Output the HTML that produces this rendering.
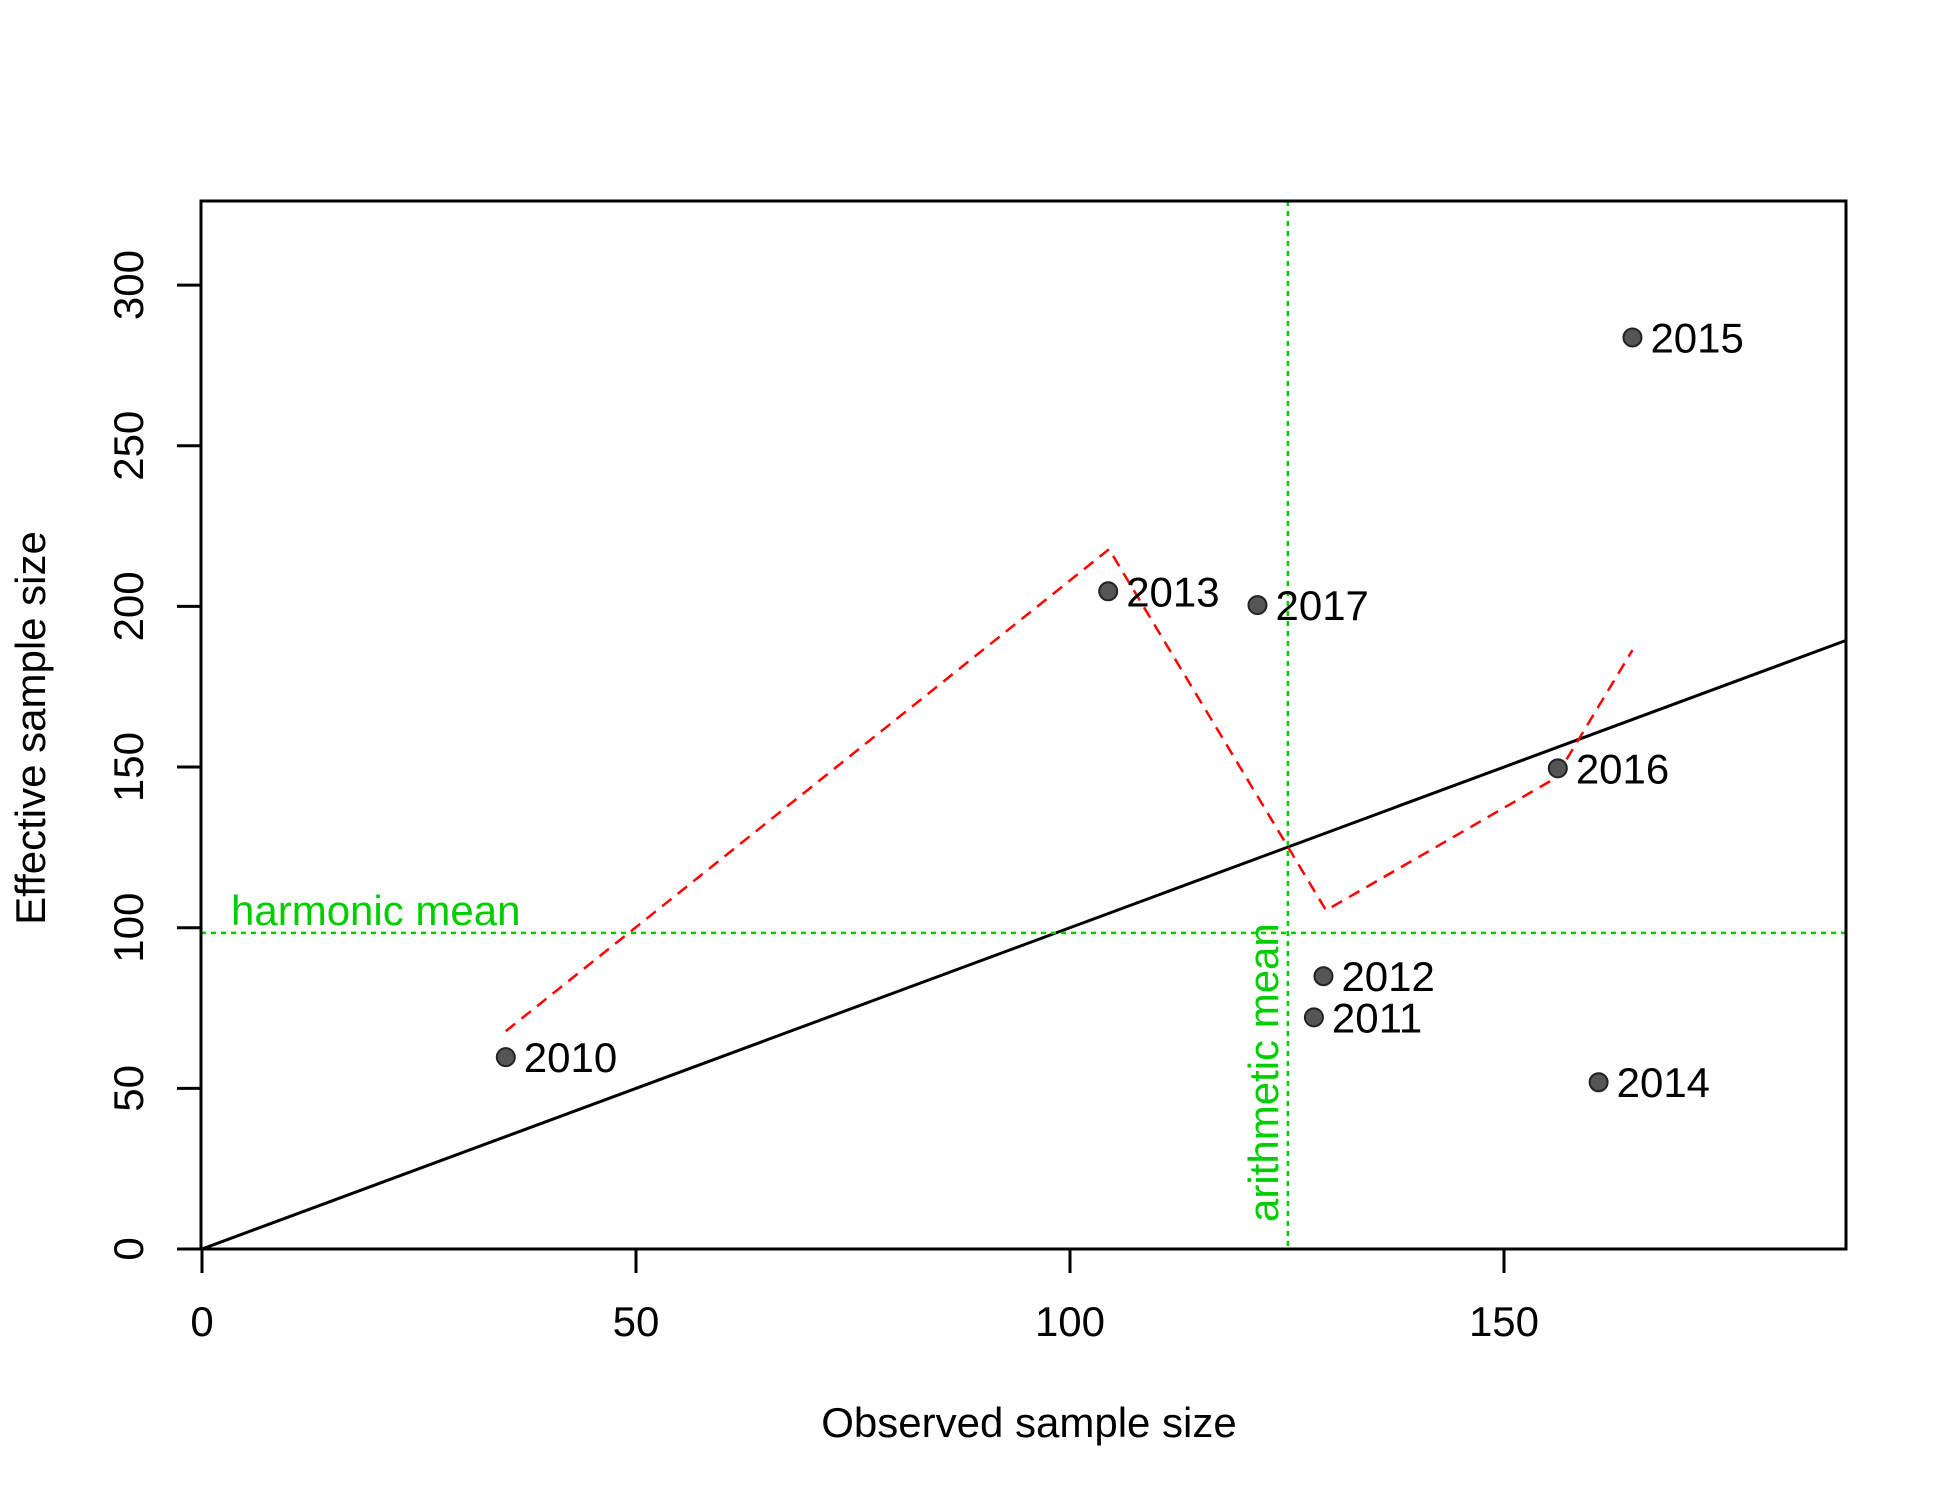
<!DOCTYPE html>
<html><head><meta charset="utf-8"><style>html,body{margin:0;padding:0;background:#fff}svg{display:block}text{font-family:"Liberation Sans",Arial,sans-serif}</style></head>
<body>
<svg id="chart" width="1950" height="1500" xmlns="http://www.w3.org/2000/svg"></svg>
<script>
const years = ["2010","2011","2012","2013","2014","2015","2016","2017"];
const observed = [35, 128.1, 129.2, 104.4, 160.9, 164.8, 156.2, 121.6];
const effective = [59.7, 72.1, 84.9, 204.7, 51.9, 283.7, 149.6, 200.4];
const trendX = [35, 104.5, 129.5, 155.9, 164.8];
const trendY = [67.8, 217.8, 105.4, 146.5, 186.4];
const xTicks = [0, 50, 100, 150];
const yTicks = [0, 50, 100, 150, 200, 250, 300];
const harmonicMean = 98.4;
const arithmeticMean = 125.1;

const L=201,R=1846,T=201,B=1249;
const X0=202, XS=8.68, Y0=1249, YS=3.213;
const sx=v=>X0+v*XS, sy=v=>Y0-v*YS;
const svg=document.getElementById('chart');
const NS='http://www.w3.org/2000/svg';
function mk(tag,attrs,parent){const e=document.createElementNS(NS,tag);for(const k in attrs)e.setAttribute(k,attrs[k]);(parent||svg).appendChild(e);return e;}

const defs=mk('defs',{});const cp=mk('clipPath',{id:'clip'},defs);mk('rect',{x:L,y:T,width:R-L,height:B-T},cp);
const plot=mk('g',{'clip-path':'url(#clip)'});



const idl=mk('line',{x1:sx(0),y1:sy(0),x2:sx(400),y2:sy(400),stroke:'#000','stroke-width':3},plot);



const hm=mk('line',{x1:L,x2:R,y1:sy(harmonicMean),y2:sy(harmonicMean),stroke:'#00cd00','stroke-width':2.5,'stroke-dasharray':'5,5'},plot);


const am=mk('line',{x1:sx(arithmeticMean),x2:sx(arithmeticMean),y1:T,y2:B,stroke:'#00cd00','stroke-width':2.5,'stroke-dasharray':'5,5'},plot);



const tp=mk('polyline',{points:trendX.map((x,i)=>sx(x)+','+sy(trendY[i])).join(' '),fill:'none',stroke:'#ff0000','stroke-width':2.5,'stroke-dasharray':'12,8'},plot);



years.forEach((y,i)=>{
  const c=mk('circle',{cx:sx(observed[i]),cy:sy(effective[i]),r:9,fill:'#555',stroke:'#222','stroke-width':2});
  
  
  const t=mk('text',{x:sx(observed[i])+18,y:sy(effective[i])+15,'font-size':42,fill:'#000'});
  t.textContent=y;
  
  
});

const ht=mk('text',{x:231,y:925,'font-size':42,fill:'#00cd00'});ht.textContent='harmonic mean';


const at=mk('text',{x:0,y:0,'font-size':42,fill:'#00cd00','text-anchor':'start',transform:`translate(${sx(arithmeticMean)-10},1222) rotate(-90)`});at.textContent='arithmetic mean';



const box=mk('rect',{x:L,y:T,width:R-L,height:B-T,fill:'none',stroke:'#000','stroke-width':3});



const xa=mk('g',{});


mk('line',{x1:sx(xTicks[0]),x2:sx(xTicks[xTicks.length-1]),y1:B,y2:B,stroke:'#000','stroke-width':3},xa);
xTicks.forEach(v=>{
  mk('line',{x1:sx(v),x2:sx(v),y1:B,y2:B+24,stroke:'#000','stroke-width':3},xa);
  const t=mk('text',{x:sx(v),y:1336,'font-size':42,'text-anchor':'middle'},xa);t.textContent=v;
  
  
});
const xt=mk('text',{x:1029,y:1437,'font-size':42,'text-anchor':'middle'});xt.textContent='Observed sample size';



const ya=mk('g',{});


mk('line',{x1:L,x2:L,y1:sy(yTicks[0]),y2:sy(yTicks[yTicks.length-1]),stroke:'#000','stroke-width':3},ya);
yTicks.forEach(v=>{
  mk('line',{x1:L-24,x2:L,y1:sy(v),y2:sy(v),stroke:'#000','stroke-width':3},ya);
  const t=mk('text',{x:0,y:0,'font-size':42,'text-anchor':'middle',transform:`translate(143,${sy(v)}) rotate(-90)`},ya);t.textContent=v;
  
  
});
const yt=mk('text',{x:0,y:0,'font-size':42,'text-anchor':'middle',transform:'translate(45,728) rotate(-90)'});yt.textContent='Effective sample size';


</script>
</body></html>
